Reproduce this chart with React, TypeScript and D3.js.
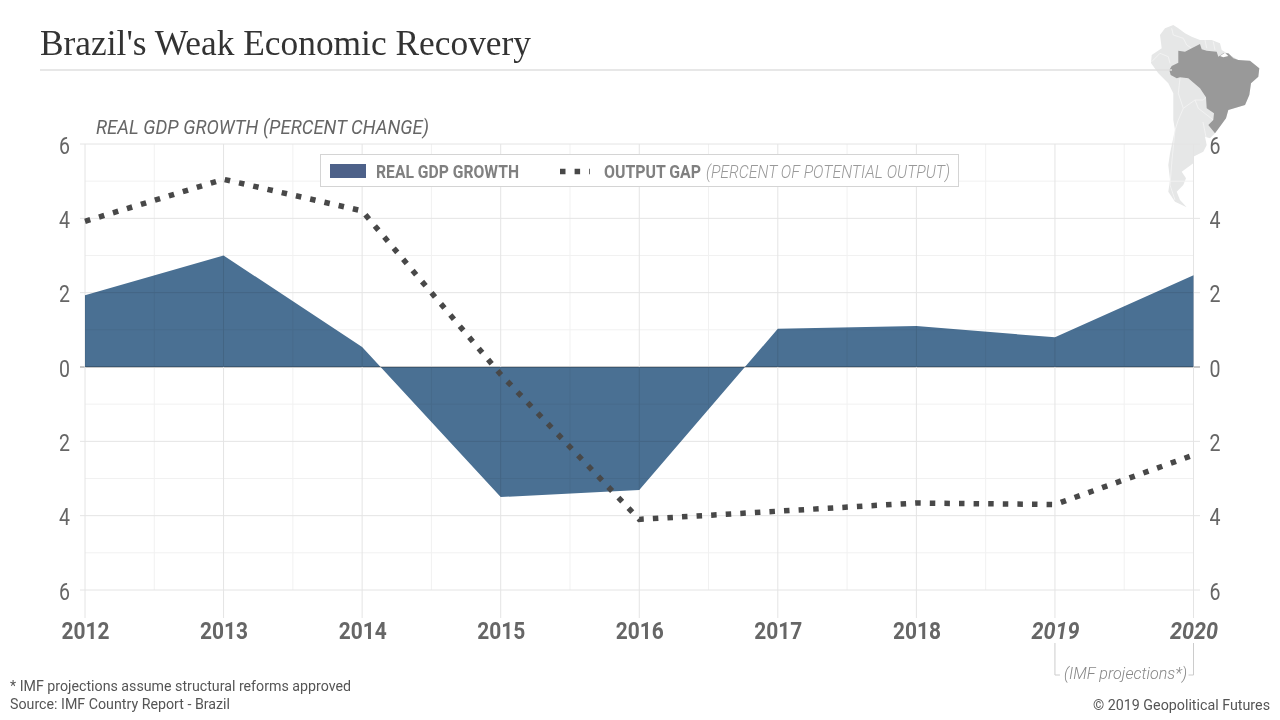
import * as d3 from 'd3';
import React, { useEffect, useRef } from 'react';

const years = [2012, 2013, 2014, 2015, 2016, 2017, 2018, 2019, 2020];
const gdpGrowth = [1.93, 3.0, 0.54, -3.5, -3.31, 1.03, 1.1, 0.8, 2.47];
const outputGap = [3.92, 5.05, 4.2, -0.2, -4.1, -3.88, -3.66, -3.7, -2.37];
const majorY = [-6, -4, -2, 0, 2, 4, 6];
const minorY = [-5, -3, -1, 1, 3, 5];
const minorX = [2012.5, 2013.5, 2014.5, 2015.5, 2016.5, 2017.5, 2018.5, 2019.5];
const projectedYears = [2019, 2020];

// map outlines, traced in a 180x210 crop of the corner
const brazil: [number, number][] = [
    [69.3, 60], [71.7, 56], [78.3, 52.7], [78.3, 40.7], [85, 41.7], [91.7, 38.3], [100, 34], [101.7, 39.3], [106.7, 40.7],
    [116.7, 41.7], [118.3, 46.7], [123.3, 43.3], [128.3, 43.3], [133.3, 48.3], [138.3, 50], [150, 50.7], [159.3, 58.3],
    [158.3, 66.7], [151, 73.3], [149.3, 85], [145, 95], [128.3, 100], [126, 108.3], [115, 123.3], [108.3, 115], [113.3, 110],
    [114, 103.3], [106.7, 98.3], [106, 87.3], [100, 78.3], [88.3, 68.3], [80, 67.3], [76.7, 68.3], [70.7, 65],
];
const continent: [number, number][] = [
    [60, 25], [65, 18.3], [73.3, 15], [78.3, 18.3], [85, 23.3], [91.7, 26.7], [100, 30], [111.7, 30], [120, 33.3], [121.7, 40],
    [138.3, 50], [159.3, 58.3], [158.3, 66.7], [151, 73.3], [149.3, 85], [145, 95], [128.3, 100], [126, 108.3], [115, 123.3],
    [110, 128.3], [105, 126.7], [106.7, 135], [103.3, 141.7], [93.3, 146.7], [93.3, 153.3], [81.7, 161.7], [86, 168.3],
    [83.3, 175], [76.7, 181.7], [80, 190], [86.7, 197.3], [75, 191.7], [68.3, 181.7], [70, 170], [68.3, 155], [70, 143.3],
    [75, 120], [73.3, 110], [73.3, 83.3], [68.3, 73.3], [58.3, 63.3], [51, 53], [51.7, 45], [61.7, 38.3],
];
const amazonMouth: [number, number][] = [[120, 46], [125, 42.7], [128.3, 46], [123.3, 47.3]];
const borders: [number, number][][] = [
    [[71.7, 18.3], [73.3, 25], [83.3, 28.3], [86.7, 35], [91.7, 38.3]],
    [[105, 30], [106.7, 38.3]],
    [[113.3, 31.7], [115, 40]],
    [[51.7, 51.7], [60, 43.3], [68.3, 46.7], [70, 53.3]],
    [[80, 68.3], [78.3, 83.3], [83.3, 98.3], [95, 90], [103.3, 90], [106, 87.3]],
    [[95, 90], [98.3, 98.3], [113.3, 110]],
    [[83.3, 98.3], [78.3, 110], [75, 120], [72, 150], [70, 175], [75, 190]],
    [[103, 112], [106, 127]],
];

const Y_LEFT = 70;
const Y_RIGHT_X = 1215;

const App: React.FC = () => {
    const svgRef = useRef<SVGSVGElement | null>(null);

    useEffect(() => {
        const svg = d3.select(svgRef.current).html('');

        const x = d3.scaleLinear().domain([2012, 2020]).range([85, 1193.5]);
        const y = d3.scaleLinear().domain([-6, 6]).range([590, 144]);

        const squeeze = (sel: any, width: number) =>
            sel.attr('textLength', width).attr('lengthAdjust', 'spacingAndGlyphs');

        const label = (
            text: string, xPos: number, yPos: number, width: number, size: number, fill: string,
            weight = 400, italic = false, family = 'Roboto',
        ) => {
            const t = svg.append('text')
                .attr('x', xPos)
                .attr('y', yPos)
                .attr('font-family', family)
                .attr('font-size', size)
                .attr('font-weight', weight)
                .attr('font-style', italic ? 'italic' : 'normal')
                .attr('fill', fill)
                .text(text);
            squeeze(t, width);
            return t;
        };

        // Map goes behind the grid
        const mapX = d3.scaleLinear().domain([0, 180]).range([1100, 1280]);
        const mapY = d3.scaleLinear().domain([0, 210]).range([10, 220]);
        const mapLine = d3.line<[number, number]>().x(d => mapX(d[0])).y(d => mapY(d[1]));
        const map = svg.append('g');
        map.append('path')
            .attr('d', mapLine(continent) + 'Z')
            .attr('fill', '#e6e7e7');
        borders.forEach(b => {
            map.append('path')
                .attr('d', mapLine(b))
                .attr('fill', 'none')
                .attr('stroke', '#f7f7f7')
                .attr('stroke-width', 0.7);
        });
        map.append('path')
            .attr('d', mapLine(brazil) + 'Z')
            .attr('fill', '#999999');
        map.append('path')
            .attr('d', mapLine(amazonMouth) + 'Z')
            .attr('fill', '#fff');

        // Title and rule
        label("Brazil's Weak Economic Recovery", 40, 55, 491, 35, '#333', 400, false, 'Liberation Serif');
        svg.append('line')
            .attr('x1', 40).attr('x2', 1172)
            .attr('y1', 70).attr('y2', 70)
            .attr('stroke', '#dfdfdf')
            .attr('stroke-width', 1.5);

        // Grid
        const grid = svg.append('g').attr('fill', 'none');
        minorY.forEach(v => {
            grid.append('line')
                .attr('x1', x(2012)).attr('x2', x(2020))
                .attr('y1', y(v)).attr('y2', y(v))
                .attr('stroke', '#f1f1f1');
        });
        minorX.forEach(v => {
            grid.append('line')
                .attr('x1', x(v)).attr('x2', x(v))
                .attr('y1', y(6)).attr('y2', y(-6))
                .attr('stroke', '#f1f1f1');
        });
        majorY.forEach(v => {
            grid.append('line')
                .attr('x1', 80).attr('x2', 1200)
                .attr('y1', y(v)).attr('y2', y(v))
                .attr('stroke', v === 0 ? '#c8c8c8' : '#e4e4e4')
                .attr('stroke-width', v === 0 ? 2 : 1);
        });
        years.forEach(v => {
            grid.append('line')
                .attr('x1', x(v)).attr('x2', x(v))
                .attr('y1', y(6)).attr('y2', 618)
                .attr('stroke', '#e4e4e4');
        });

        // Area for GDP growth
        const area = d3.area<number>()
            .x((_, i) => x(years[i]))
            .y0(y(0))
            .y1(d => y(d));
        svg.append('path')
            .datum(gdpGrowth)
            .attr('fill', '#4a7093')
            .style('mix-blend-mode', 'multiply')
            .attr('d', area);

        // Output gap dotted line
        const line = d3.line<number>()
            .x((_, i) => x(years[i]))
            .y(d => y(d));
        svg.append('path')
            .datum(outputGap)
            .attr('fill', 'none')
            .attr('stroke', '#484848')
            .attr('stroke-width', 5.5)
            .attr('stroke-dasharray', '5.5 9.1')
            .attr('d', line);

        // Y axes, both show absolute values
        const yLeft = svg.append('g')
            .attr('transform', `translate(${Y_LEFT}, 1.5)`)
            .call(d3.axisLeft(y).tickValues(majorY).tickSize(0).tickPadding(0).tickFormat(d => String(Math.abs(+d))));
        const yRight = svg.append('g')
            .attr('transform', `translate(${Y_RIGHT_X}, 1.5)`)
            .call(d3.axisRight(y).tickValues(majorY).tickSize(0).tickPadding(0).tickFormat(d => String(Math.abs(+d))));
        [yLeft, yRight].forEach(axis => {
            axis.select('.domain').remove();
            const ticks = axis.selectAll('text')
                .attr('font-family', 'Roboto')
                .attr('font-size', 24)
                .attr('fill', '#666');
            squeeze(ticks, 11);
        });
        yLeft.selectAll('text').attr('text-anchor', 'end');
        yRight.selectAll('text').attr('text-anchor', 'middle');

        // X axis
        const xAxis = svg.append('g')
            .attr('transform', 'translate(0, 622)')
            .call(d3.axisBottom(x).tickValues(years).tickSize(0).tickPadding(0).tickFormat(d => String(d)));
        xAxis.select('.domain').remove();
        const yearText = xAxis.selectAll<SVGTextElement, number>('text')
            .attr('font-family', 'Roboto')
            .attr('font-size', 24)
            .attr('font-weight', 700)
            .attr('font-style', d => (projectedYears.includes(d) ? 'italic' : 'normal'))
            .attr('fill', '#666');
        squeeze(yearText, 48);

        label('REAL GDP GROWTH (PERCENT CHANGE)', 96, 134, 333, 20, '#666', 400, true);

        // Legend
        svg.append('rect')
            .attr('x', 320.5).attr('y', 154.5)
            .attr('width', 638).attr('height', 32)
            .attr('fill', '#fff')
            .attr('stroke', '#d4d4d4');
        svg.append('rect')
            .attr('x', 330).attr('y', 164)
            .attr('width', 36).attr('height', 14)
            .attr('fill', '#4d6189');
        label('REAL GDP GROWTH', 376, 178, 143, 18, '#808080', 700);
        svg.append('line')
            .attr('x1', 560).attr('x2', 590)
            .attr('y1', 171.5).attr('y2', 171.5)
            .attr('stroke', '#484848')
            .attr('stroke-width', 5.5)
            .attr('stroke-dasharray', '5.5 9.1');
        label('OUTPUT GAP', 604, 178, 97, 18, '#808080', 700);
        label('(PERCENT OF POTENTIAL OUTPUT)', 706, 178, 244, 18, '#999', 300, true);

        // Projection bracket
        const bracket = d3.line();
        svg.append('path')
            .attr('d', bracket([[x(2019), 643], [x(2019), 675], [x(2019) + 5, 675]]))
            .attr('fill', 'none')
            .attr('stroke', '#ccc');
        svg.append('path')
            .attr('d', bracket([[x(2020), 643], [x(2020), 675], [x(2020) - 5, 675]]))
            .attr('fill', 'none')
            .attr('stroke', '#ccc');
        label('(IMF projections*)', 1064, 679, 123, 17, '#888', 300, true);

        // Footer
        label('* IMF projections assume structural reforms approved', 10, 691, 341, 15, '#555');
        label('Source: IMF Country Report - Brazil', 10, 709, 220, 15, '#555');
        label('© 2019 Geopolitical Futures', 1093, 710, 177, 15, '#555');
    }, []);

    return (
        <div style={{ position: 'fixed', left: 0, top: 0 }}>
            <svg ref={svgRef} width={1280} height={720} style={{ display: 'block', background: '#fff' }}></svg>
        </div>
    );
};

export default App;
